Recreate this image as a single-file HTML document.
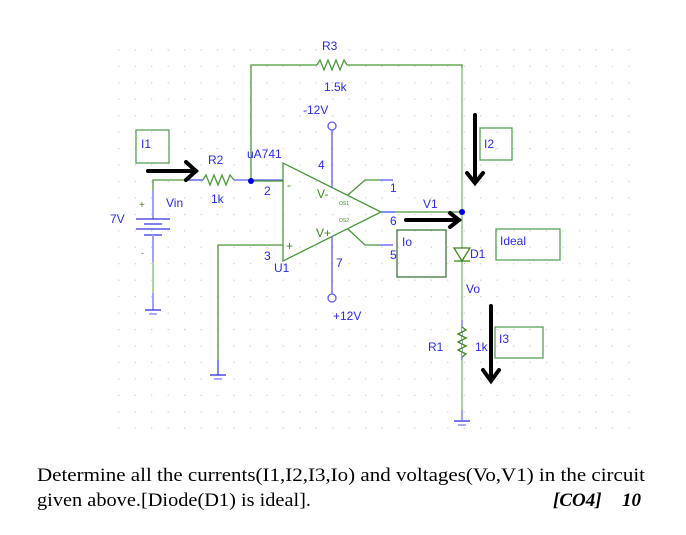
<!DOCTYPE html>
<html><head><meta charset="utf-8"><style>
html,body{margin:0;padding:0;background:#fff;width:686px;height:535px;overflow:hidden}
svg{display:block}
.b{font-family:"Liberation Sans",sans-serif;fill:#2a2ae8;font-size:12px}
.g{font-family:"Liberation Sans",sans-serif;fill:#3a8a1a;font-size:12px}
</style></head><body>
<svg width="686" height="535" viewBox="0 0 686 535" xmlns="http://www.w3.org/2000/svg">
<defs>
<pattern id="dots" x="3.1" y="16.4" width="16.45" height="16.45" patternUnits="userSpaceOnUse">
<rect x="0" y="0" width="1.2" height="1.2" fill="#c8c8c8"/>
</pattern>
</defs>
<rect x="114" y="47" width="530" height="396" fill="url(#dots)"/>

<g fill="none" stroke-width="1.3">
<polyline points="251,181 251,65 317,65" stroke="#4a9a3a"/>
<polyline points="317,65 320,60 324,70 328,60 332,70 336,60 340,70 344,60 347,65" stroke="#4a9a3a"/>
<polyline points="347,65 462,65 462,212" stroke="#4a9a3a"/>
<line x1="462" y1="68" x2="462" y2="212" stroke="#a8d8a0" stroke-width="2"/>
<polyline points="153,205 153,180 203,180" stroke="#4a9a3a"/>
<line x1="186" y1="180" x2="203" y2="180" stroke="#5a5aff"/>
<polyline points="203,180 206,175 210,185 214,175 218,185 222,175 226,185 230,175 234,180" stroke="#4a9a3a"/>
<line x1="234" y1="180" x2="283" y2="180" stroke="#5a5aff"/>
<line x1="251" y1="181" x2="283" y2="181" stroke="#4a9a3a"/>
<line x1="153" y1="190" x2="153" y2="219" stroke="#a0a0ff" stroke-width="2"/>
<line x1="136" y1="219" x2="170" y2="219" stroke="#3030e0"/>
<line x1="144" y1="224" x2="162" y2="224" stroke="#3030e0"/>
<line x1="136" y1="229" x2="170" y2="229" stroke="#3030e0"/>
<line x1="144" y1="235" x2="162" y2="235" stroke="#3030e0"/>
<line x1="153" y1="235" x2="153" y2="310" stroke="#a0a0ff" stroke-width="2"/>
<line x1="153" y1="262" x2="153" y2="293" stroke="#a8d8a0" stroke-width="2"/>
<line x1="145" y1="310" x2="161" y2="310" stroke="#3030e0"/>
<line x1="149" y1="314" x2="157" y2="314" stroke="#8080ff"/>
<polyline points="283,245 218,245 218,375" stroke="#4a9a3a"/>
<line x1="218" y1="360" x2="218" y2="375" stroke="#5a5aff"/>
<line x1="210" y1="375" x2="226" y2="375" stroke="#3030e0"/>
<line x1="214" y1="379" x2="222" y2="379" stroke="#8080ff"/>
<polygon points="283,163 283,261 381,212" stroke="#4a9a3a"/>
<line x1="332" y1="130" x2="332" y2="188" stroke="#5a5aff"/>
<line x1="332" y1="236" x2="332" y2="294" stroke="#5a5aff"/>
<circle cx="332" cy="126" r="4" stroke="#5a5aff" fill="#fff"/>
<circle cx="332" cy="298" r="4" stroke="#5a5aff" fill="#fff"/>
<polyline points="348,195 365,180 380,180" stroke="#4a9a3a"/>
<line x1="380" y1="180" x2="393" y2="180" stroke="#5a5aff"/>
<polyline points="348,229 365,245 380,245" stroke="#4a9a3a"/>
<line x1="380" y1="245" x2="393" y2="245" stroke="#5a5aff"/>
<line x1="381" y1="212" x2="462" y2="212" stroke="#4a9a3a"/>
<line x1="381" y1="212" x2="395" y2="212" stroke="#5a5aff"/>
<line x1="462" y1="212" x2="462" y2="420" stroke="#a0a0ff" stroke-width="2"/>
<line x1="462" y1="212" x2="462" y2="247" stroke="#a8d8a0" stroke-width="2"/>
<line x1="462" y1="262" x2="462" y2="320" stroke="#a8d8a0" stroke-width="2"/>
<line x1="462" y1="360" x2="462" y2="410" stroke="#a8d8a0" stroke-width="2"/>
<polygon points="454,248 470,248 462,261" stroke="#3a8a1a" fill="#fff"/>
<line x1="454" y1="261" x2="470" y2="261" stroke="#3a8a1a"/>
<polyline points="462,327 466,330 458,334 466,338 458,342 466,346 458,350 466,354 462,357" stroke="#3a8a1a" fill="#fff"/>
<line x1="454" y1="421" x2="470" y2="421" stroke="#3030e0"/>
<line x1="458" y1="425" x2="466" y2="425" stroke="#8080ff"/>
<rect x="136" y="130" width="33" height="33" stroke="#5aa05a"/>
<rect x="480" y="128" width="32" height="32" stroke="#5aa05a"/>
<rect x="397" y="230" width="49" height="47" stroke="#3a7a3a"/>
<rect x="496" y="229" width="64" height="31" stroke="#5aa05a"/>
<rect x="495" y="327" width="48" height="31" stroke="#5aa05a"/>
</g>
<circle cx="251" cy="181" r="3" fill="#0000e0"/>
<circle cx="462" cy="212" r="3" fill="#0000e0"/>

<g stroke="#000" stroke-width="4" fill="none" stroke-linecap="round">
<line x1="148" y1="171" x2="196" y2="171"/><polyline points="186,162 196,171 186,180"/>
<line x1="475" y1="115" x2="475" y2="182"/><polyline points="467,173 475,183 483,173"/>
<line x1="406" y1="220" x2="459" y2="220"/><polyline points="450,213 459,220 450,227"/>
<line x1="491" y1="306" x2="491" y2="380"/><polyline points="483,370 491,381 499,370"/>
</g>

<text class="b" x="322" y="50">R3</text>
<text class="b" x="324" y="91">1.5k</text>
<text class="b" x="303" y="114">-12V</text>
<text class="b" x="141" y="148">I1</text>
<text class="b" x="484" y="148">I2</text>
<text class="b" x="208" y="164">R2</text>
<text class="b" x="247" y="158">uA741</text>
<text class="b" x="318" y="169">4</text>
<text class="b" x="264" y="195">2</text>
<text class="b" x="211" y="203">1k</text>
<text class="b" x="166" y="207">Vin</text>
<text class="g" x="139" y="208" style="font-size:10px">+</text>
<text class="b" x="110" y="223">7V</text>
<text class="g" x="141" y="256" style="font-size:9px">-</text>
<text class="g" x="287" y="189">-</text>
<text class="g" x="286" y="250">+</text>
<text class="g" x="317" y="198">V-</text>
<text class="g" x="316" y="237">V+</text>
<text class="g" x="339" y="205" style="font-size:5px">OS1</text>
<text class="g" x="339" y="222" style="font-size:5px">OS2</text>
<text class="b" x="390" y="192">1</text>
<text class="b" x="390" y="225">6</text>
<text class="b" x="390" y="259">5</text>
<text class="b" x="423" y="208">V1</text>
<text class="b" x="402" y="246">Io</text>
<text class="b" x="470" y="258">D1</text>
<text class="b" x="500" y="245">Ideal</text>
<text class="b" x="264" y="260">3</text>
<text class="b" x="274" y="272">U1</text>
<text class="b" x="336" y="267">7</text>
<text class="b" x="333" y="320">+12V</text>
<text class="b" x="466" y="293">Vo</text>
<text class="b" x="428" y="351">R1</text>
<text class="b" x="475" y="351">1k</text>
<text class="b" x="499" y="343">I3</text>

<text x="37" y="481" font-family="'Liberation Serif',serif" font-size="19" textLength="608" lengthAdjust="spacingAndGlyphs">Determine all the currents(I1,I2,I3,Io) and voltages(Vo,V1) in the circuit</text>
<text x="37" y="506" font-family="'Liberation Serif',serif" font-size="19" textLength="274" lengthAdjust="spacingAndGlyphs">given above.[Diode(D1) is ideal].</text>
<text x="553" y="506" font-family="'Liberation Serif',serif" font-size="19" font-style="italic" font-weight="bold">[CO4]</text>
<text x="622" y="506" font-family="'Liberation Serif',serif" font-size="19" font-style="italic" font-weight="bold">10</text>
</svg>
</body></html>
